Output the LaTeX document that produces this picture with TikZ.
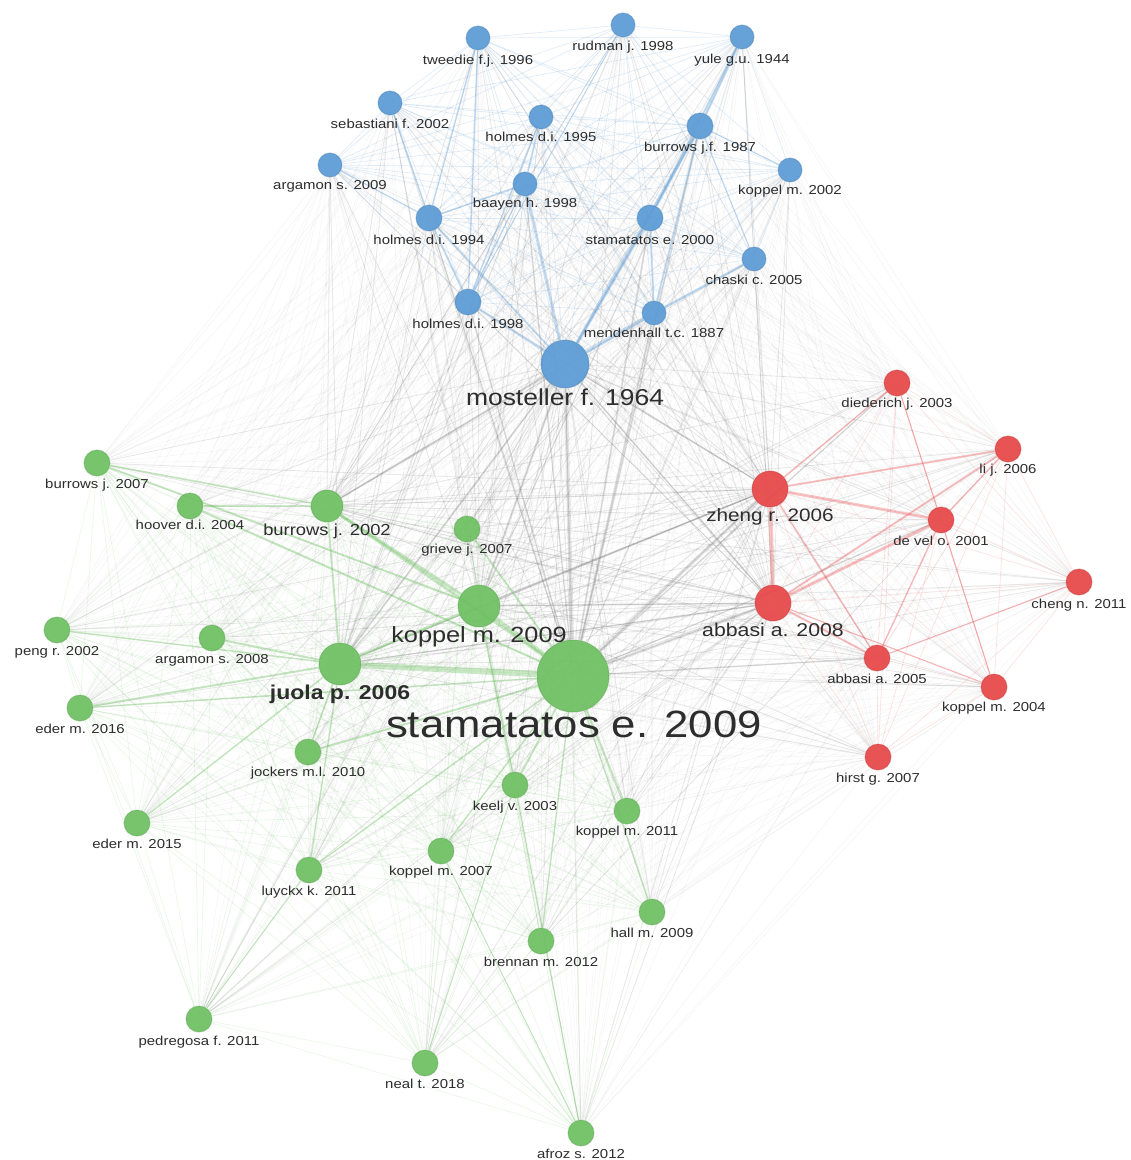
\documentclass[tikz,border=0pt]{standalone}
\usepackage{fontspec}
\newfontfamily\labfont[FakeStretch=1.15]{Liberation Sans}
\usetikzlibrary{backgrounds}
\definecolor{bluec}{RGB}{91,155,213}
\definecolor{redc}{RGB}{231,70,72}
\definecolor{greenc}{RGB}{110,192,98}
\definecolor{labc}{RGB}{45,45,45}
\tikzset{
 cnode/.style={circle, inner sep=0pt, line width=1pt},
 bnode/.style={cnode, fill=bluec, draw=bluec!85!black, fill opacity=.93, draw opacity=.45},
 rnode/.style={cnode, fill=redc, draw=redc!85!black, fill opacity=.93, draw opacity=.45},
 gnode/.style={cnode, fill=greenc, draw=greenc!85!black, fill opacity=.93, draw opacity=.45},
 lab/.style={anchor=base, inner sep=0pt, text=labc, font=\labfont\fontsize{13}{15}\selectfont},
 gedge/.style={draw=black!50, draw opacity=.07, line width=.6pt},
 hedge/.style={draw=black!50, draw opacity=.12, line width=.9pt},
 hstrong/.style={draw=black!50, draw opacity=.18},
 bedge/.style={draw=bluec, draw opacity=.18, line width=.7pt},
 redge/.style={draw=redc, draw opacity=.15, line width=.7pt},
 grnedge/.style={draw=greenc, draw opacity=.13, line width=.7pt},
 bstrong/.style={draw=bluec, draw opacity=.3},
 rstrong/.style={draw=redc, draw opacity=.3},
 gstrong/.style={draw=greenc, draw opacity=.35},
}
\begin{document}
\begin{tikzpicture}[x=1pt,y=-1pt]
\path[use as bounding box] (0,0) rectangle (1131,1160);
% ---------- blue cluster
\node[bnode, minimum size=24] (n1) at (478,38) {};
\node[bnode, minimum size=24] (n2) at (623,25) {};
\node[bnode, minimum size=24] (n3) at (742,37) {};
\node[bnode, minimum size=24] (n4) at (390,103) {};
\node[bnode, minimum size=24] (n5) at (541,117) {};
\node[bnode, minimum size=26] (n6) at (700,126) {};
\node[bnode, minimum size=24] (n7) at (330,165) {};
\node[bnode, minimum size=24] (n8) at (790,170) {};
\node[bnode, minimum size=24] (n9) at (525,184) {};
\node[bnode, minimum size=26] (n10) at (429,218) {};
\node[bnode, minimum size=26] (n11) at (650,218) {};
\node[bnode, minimum size=24] (n12) at (754,259) {};
\node[bnode, minimum size=26] (n13) at (468,302) {};
\node[bnode, minimum size=24] (n14) at (654,313) {};
\node[bnode, minimum size=48] (n15) at (565,364) {};
% ---------- red cluster
\node[rnode, minimum size=26] (n16) at (897,383) {};
\node[rnode, minimum size=26] (n17) at (1008,449) {};
\node[rnode, minimum size=36] (n18) at (770,489) {};
\node[rnode, minimum size=26] (n19) at (941,520) {};
\node[rnode, minimum size=26] (n20) at (1079,582) {};
\node[rnode, minimum size=36] (n21) at (773,603) {};
\node[rnode, minimum size=26] (n22) at (877,658) {};
\node[rnode, minimum size=26] (n23) at (994,687) {};
\node[rnode, minimum size=26] (n24) at (878,757) {};
% ---------- green cluster
\node[gnode, minimum size=26] (n25) at (97,463) {};
\node[gnode, minimum size=26] (n26) at (190,506) {};
\node[gnode, minimum size=32] (n27) at (327,506) {};
\node[gnode, minimum size=26] (n28) at (467,529) {};
\node[gnode, minimum size=42] (n29) at (479,606) {};
\node[gnode, minimum size=26] (n30) at (57,630) {};
\node[gnode, minimum size=26] (n31) at (212,638) {};
\node[gnode, minimum size=42] (n32) at (340,664) {};
\node[gnode, minimum size=72] (n33) at (573,676) {};
\node[gnode, minimum size=26] (n34) at (80,708) {};
\node[gnode, minimum size=26] (n35) at (308,752) {};
\node[gnode, minimum size=26] (n36) at (515,785) {};
\node[gnode, minimum size=26] (n37) at (627,811) {};
\node[gnode, minimum size=26] (n38) at (137,823) {};
\node[gnode, minimum size=26] (n39) at (441,851) {};
\node[gnode, minimum size=26] (n40) at (309,870) {};
\node[gnode, minimum size=26] (n41) at (652,912) {};
\node[gnode, minimum size=26] (n42) at (541,941) {};
\node[gnode, minimum size=26] (n43) at (199,1019) {};
\node[gnode, minimum size=26] (n44) at (425,1063) {};
\node[gnode, minimum size=26] (n45) at (581,1133) {};
% ---------- labels
\node[lab] (t1) at (478,64) {tweedie f.j. 1996};
\node[lab] (t2) at (623,50) {rudman j. 1998};
\node[lab] (t3) at (742,63) {yule g.u. 1944};
\node[lab] (t4) at (390,128) {sebastiani f. 2002};
\node[lab] (t5) at (541,141) {holmes d.i. 1995};
\node[lab] (t6) at (700,151) {burrows j.f. 1987};
\node[lab] (t7) at (330,189) {argamon s. 2009};
\node[lab] (t8) at (790,194) {koppel m. 2002};
\node[lab] (t9) at (525,207) {baayen h. 1998};
\node[lab] (t10) at (429,244) {holmes d.i. 1994};
\node[lab] (t11) at (650,244) {stamatatos e. 2000};
\node[lab] (t12) at (754,284) {chaski c. 2005};
\node[lab] (t13) at (468,328) {holmes d.i. 1998};
\node[lab] (t14) at (654,337) {mendenhall t.c. 1887};
\node[lab, font=\labfont\fontsize{23}{26}\selectfont] (t15) at (565,405) {mosteller f. 1964};
\node[lab] (t16) at (897,407) {diederich j. 2003};
\node[lab] (t17) at (1008,473) {li j. 2006};
\node[lab, font=\labfont\fontsize{18}{21}\selectfont] (t18) at (770,521) {zheng r. 2006};
\node[lab] (t19) at (941,545) {de vel o. 2001};
\node[lab] (t20) at (1079,608) {cheng n. 2011};
\node[lab, font=\labfont\fontsize{18.5}{21}\selectfont] (t21) at (773,636) {abbasi a. 2008};
\node[lab] (t22) at (877,683) {abbasi a. 2005};
\node[lab] (t23) at (994,711) {koppel m. 2004};
\node[lab] (t24) at (878,782) {hirst g. 2007};
\node[lab] (t25) at (97,488) {burrows j. 2007};
\node[lab] (t26) at (190,529) {hoover d.i. 2004};
\node[lab, font=\labfont\fontsize{16}{19}\selectfont] (t27) at (327,535) {burrows j. 2002};
\node[lab] (t28) at (467,553) {grieve j. 2007};
\node[lab, font=\labfont\fontsize{22}{25}\selectfont] (t29) at (479,642) {koppel m. 2009};
\node[lab] (t30) at (57,655) {peng r. 2002};
\node[lab] (t31) at (212,663) {argamon s. 2008};
\node[lab, font=\labfont\bfseries\fontsize{20}{23}\selectfont] (t32) at (340,699) {juola p. 2006};
\node[lab, font=\labfont\fontsize{38}{42}\selectfont] (t33) at (574,737) {stamatatos e. 2009};
\node[lab] (t34) at (80,733) {eder m. 2016};
\node[lab] (t35) at (308,776) {jockers m.l. 2010};
\node[lab] (t36) at (515,810) {keelj v. 2003};
\node[lab] (t37) at (627,835) {koppel m. 2011};
\node[lab] (t38) at (137,848) {eder m. 2015};
\node[lab] (t39) at (441,875) {koppel m. 2007};
\node[lab] (t40) at (309,895) {luyckx k. 2011};
\node[lab] (t41) at (652,937) {hall m. 2009};
\node[lab] (t42) at (541,966) {brennan m. 2012};
\node[lab] (t43) at (199,1045) {pedregosa f. 2011};
\node[lab] (t44) at (425,1088) {neal t. 2018};
\node[lab] (t45) at (581,1158) {afroz s. 2012};
% ---------- connectors
\begin{pgfonlayer}{background}
\fill[white] (0,0) rectangle (1131,1160);
% faint links between clusters
\foreach \i in {1,...,15}{\foreach \j in {16,...,45}{\draw[gedge] (n\i) -- (n\j);}}
\foreach \i in {16,...,24}{\foreach \j in {25,...,45}{\draw[gedge] (n\i) -- (n\j);}}
% hub links between clusters
\foreach \j in {16,...,45}{\draw[hedge] (n15) -- (n\j);}
\foreach \h in {18,21}{\foreach \j in {1,...,15,25,26,27,28,29,30,31,32,33,34,35,36,37,38,39,40,41,42,43,44,45}{\draw[hedge] (n\h) -- (n\j);}}
\foreach \h in {27,29,32,33}{\foreach \j in {1,...,24}{\draw[hedge] (n\h) -- (n\j);}}
% links inside clusters
\foreach \i in {1,...,14}{\pgfmathtruncatemacro\k{\i+1}\foreach \j in {\k,...,15}{\draw[bedge] (n\i) -- (n\j);}}
\foreach \i in {16,...,23}{\pgfmathtruncatemacro\k{\i+1}\foreach \j in {\k,...,24}{\draw[redge] (n\i) -- (n\j);}}
\foreach \i in {25,...,44}{\pgfmathtruncatemacro\k{\i+1}\foreach \j in {\k,...,45}{\draw[grnedge] (n\i) -- (n\j);}}
% strong links
\foreach \a/\b/\w in {33/15/4,29/15/2.5,32/15/2,27/15/2,33/18/3,33/21/3,33/11/2,33/6/2,33/14/2,33/9/1.5,29/18/1.5,29/21/1.5,32/18/1.5,32/21/1.5,33/13/1.5,33/16/1.2,33/19/1.2,33/22/1.5,15/18/1.5,15/21/1.5,33/10/1.2}
  {\draw[hstrong, line width=\w pt] (n\a) -- (n\b);}
\foreach \a/\b/\w in {15/9/3,15/6/3,15/14/4,15/11/2.5,15/13/2.5,15/10/2,13/10/2,14/12/2.5,6/3/3,6/11/2,5/9/2,1/10/1.5,1/13/1.5,6/14/2,11/14/2,10/9/1.5,5/13/1.5,3/11/1.5,2/13/1,4/10/1.5,7/10/1.2,6/8/1.2,12/6/1.2,9/13/1.5}
  {\draw[bstrong, line width=\w pt] (n\a) -- (n\b);}
\foreach \a/\b/\w in {18/21/4,18/19/3,21/19/3,18/17/2,21/17/2,21/22/2,18/16/1.5,18/22/1.5,19/22/1.5,19/23/1.2,16/19/1.2,17/19/1.5,22/20/1.2,21/23/1.2}
  {\draw[rstrong, line width=\w pt] (n\a) -- (n\b);}
\foreach \a/\b/\w in {33/32/6,33/29/4,32/29/3,27/29/3,27/33/3,26/33/2,25/29/2,28/33/2,32/31/2,32/27/2,32/30/1.5,32/34/2,33/37/2.5,33/36/2,33/41/1.5,33/35/2,32/35/1.5,32/40/1.5,33/39/1.5,29/36/1.5,26/27/2,25/27/1.5,33/42/1.5,40/33/1.5,38/32/1.5,34/33/1.5,44/36/1,45/36/1,45/39/1,43/40/1}
  {\draw[gstrong, line width=\w pt] (n\a) -- (n\b);}
\end{pgfonlayer}
\end{tikzpicture}
\end{document}
